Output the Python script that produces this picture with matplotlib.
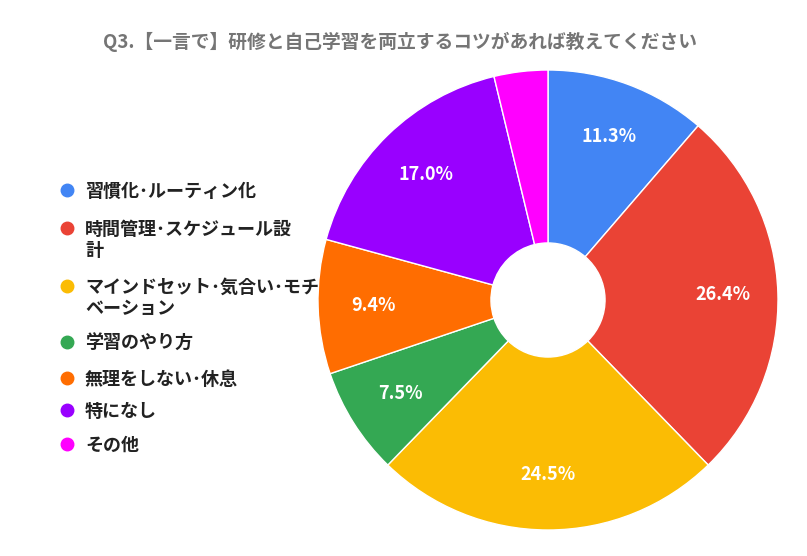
import matplotlib.pyplot as plt
from matplotlib.lines import Line2D

plt.rcParams['font.family'] = ['Noto Sans CJK JP', 'DejaVu Sans']

# 回答数 (n=53)
labels = ['習慣化･ルーティン化', '時間管理･スケジュール設\n計', 'マインドセット･気合い･モチ\nベーション',
          '学習のやり方', '無理をしない･休息', '特になし', 'その他']
counts = [6, 14, 13, 4, 5, 9, 2]
colors = ['#4285F4', '#EA4335', '#FBBC04', '#34A853', '#FF6D01', '#9900FF', '#FF00FF']
title = 'Q3.【一言で】研修と自己学習を両立するコツがあれば教えてください'

W, H = 807, 556
fig = plt.figure(figsize=(W / 100, H / 100), dpi=100)

cx, cy, r = 548, 300, 230
ax = fig.add_axes([(cx - r) / W, (H - cy - r) / H, 2 * r / W, 2 * r / H])
wedges, texts, autotexts = ax.pie(counts, colors=colors, startangle=90, counterclock=False,
                                  autopct='%.1f%%', pctdistance=0.76,
                                  wedgeprops=dict(width=0.752, edgecolor='white', linewidth=1))
for t, c in zip(autotexts, counts):
    t.set_color('white')
    t.set_fontsize(13)
    t.set_fontweight('bold')
    if c / sum(counts) < 0.05:
        t.set_text('')
ax.set_xlim(-1, 1)
ax.set_ylim(-1, 1)
ax.set_aspect('equal')
ax.axis('off')

fig.text(400 / W, 1 - 42 / H, title, ha='center', va='center', fontsize=13.5,
         fontweight='bold', color='#757575')

# legend, drawn by hand
ys = [190, 228, 286, 342, 378, 410, 444]
for lab, col, y in zip(labels, colors, ys):
    fig.add_artist(Line2D([67 / W], [1 - y / H], marker='o', markersize=9, color=col,
                          linestyle='none', transform=fig.transFigure))
    fig.text(85 / W, 1 - (y - 8) / H, lab, ha='left', va='top', fontsize=13,
             fontweight='bold', color='#222222', linespacing=1.1)

plt.savefig('out.png', dpi=100)
